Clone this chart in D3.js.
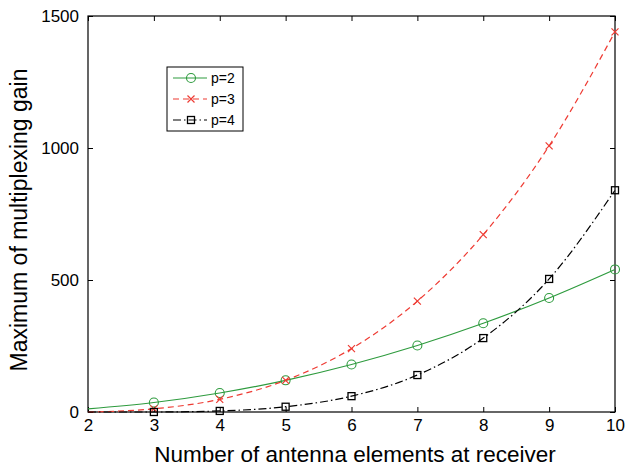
<!DOCTYPE html>
<html>
<head>
<meta charset="utf-8">
<script src="https://cdn.jsdelivr.net/npm/d3@7"></script>
<style>
  body { margin: 0; background: #fff; }
  text { font-family: "Liberation Sans", Arial, sans-serif; }
</style>
</head>
<body>
<div id="chart"></div>
<script>
// Data
const antennas = [2, 3, 4, 5, 6, 7, 8, 9, 10];
const gainP2 = [12, 36, 72, 120, 180, 252, 336, 432, 540];
const gainP3 = [0, 12, 48, 120, 240, 420, 672, 1008, 1440];
const gainP4 = [0, 0, 4, 20, 60, 140, 280, 504, 840];
const xTicks = [2, 3, 4, 5, 6, 7, 8, 9, 10];
const yTicks = [0, 500, 1000, 1500];

const series = [
    { name: "p=2", values: gainP2, color: "#2e9b3e", dash: null, marker: "circle" },
    { name: "p=3", values: gainP3, color: "#ee3b33", dash: "6,4", marker: "cross" },
    { name: "p=4", values: gainP4, color: "#000000", dash: "8,3,1.5,3", marker: "square" }
];

// SVG dimensions
const w = 626;
const h = 469;
const padL = 88, padR = 615, padT = 16, padB = 412;

const xScale = d3.scaleLinear().domain([2, 10]).range([padL, padR]);
const yScale = d3.scaleLinear().domain([0, 1500]).range([padB, padT]);

const svg = d3.select("#chart")
    .append("svg")
    .attr("width", w)
    .attr("height", h);

// Axes (ticks inward on all sides)
function styleAxis(g) {
    g.select(".domain").remove();
    g.selectAll("line").attr("stroke", "#000");
    g.selectAll("text")
        .attr("fill", "#000")
        .style("font-size", "17px");
}

svg.append("g")
    .attr("transform", "translate(0," + padB + ")")
    .call(d3.axisBottom(xScale).tickValues(xTicks).tickSizeInner(-5).tickSizeOuter(0).tickPadding(7).tickFormat(d3.format("d")))
    .call(styleAxis);

svg.append("g")
    .attr("transform", "translate(0," + padT + ")")
    .call(d3.axisTop(xScale).tickValues(xTicks).tickSizeInner(-5).tickSizeOuter(0).tickFormat(""))
    .call(styleAxis);

svg.append("g")
    .attr("transform", "translate(" + padL + ",0)")
    .call(d3.axisLeft(yScale).tickValues(yTicks).tickSizeInner(-5).tickSizeOuter(0).tickPadding(9).tickFormat(d3.format("d")))
    .call(styleAxis);

svg.append("g")
    .attr("transform", "translate(" + padR + ",0)")
    .call(d3.axisRight(yScale).tickValues(yTicks).tickSizeInner(-5).tickSizeOuter(0).tickFormat(""))
    .call(styleAxis);

// Plot box
svg.append("rect")
    .attr("x", padL)
    .attr("y", padT)
    .attr("width", padR - padL)
    .attr("height", padB - padT)
    .attr("fill", "none")
    .attr("stroke", "#000")
    .attr("stroke-width", 1.2);

// Marker drawing
function drawMarker(g, type, color, x, y) {
    if (type === "circle") {
        g.append("circle").attr("cx", x).attr("cy", y).attr("r", 4.5)
            .attr("fill", "none").attr("stroke", color).attr("stroke-width", 1.1);
    } else if (type === "cross") {
        g.append("path")
            .attr("d", "M" + (x - 3.5) + "," + (y - 3.5) + "L" + (x + 3.5) + "," + (y + 3.5) +
                "M" + (x - 3.5) + "," + (y + 3.5) + "L" + (x + 3.5) + "," + (y - 3.5))
            .attr("stroke", color).attr("stroke-width", 1.2);
    } else {
        g.append("rect").attr("x", x - 3.5).attr("y", y - 3.5).attr("width", 7).attr("height", 7)
            .attr("fill", "none").attr("stroke", color).attr("stroke-width", 1.3);
    }
}

const line = d3.line()
    .curve(d3.curveMonotoneX)
    .x(d => xScale(d[0]))
    .y(d => yScale(d[1]));

series.forEach(s => {
    const pts = antennas.map((a, i) => [a, s.values[i]]);
    svg.append("path")
        .datum(pts)
        .attr("fill", "none")
        .attr("stroke", s.color)
        .attr("stroke-width", 1.2)
        .attr("stroke-dasharray", s.dash)
        .attr("d", line);
    const g = svg.append("g");
    pts.filter(p => p[0] > 2).forEach(p => drawMarker(g, s.marker, s.color, xScale(p[0]), yScale(p[1])));
});

// Legend
const legend = svg.append("g").attr("transform", "translate(167,67)");
legend.append("rect")
    .attr("width", 76).attr("height", 64)
    .attr("fill", "#fff").attr("stroke", "#000").attr("stroke-width", 1);
series.forEach((s, i) => {
    const y = 11 + i * 21;
    legend.append("line")
        .attr("x1", 6).attr("x2", 40).attr("y1", y).attr("y2", y)
        .attr("stroke", s.color).attr("stroke-width", 1.2)
        .attr("stroke-dasharray", s.dash);
    drawMarker(legend, s.marker, s.color, 24, y);
    legend.append("text")
        .attr("x", 44).attr("y", y + 5)
        .style("font-size", "14px")
        .text(s.name);
});

// Axis titles
svg.append("text")
    .attr("x", 355)
    .attr("y", 462)
    .attr("text-anchor", "middle")
    .style("font-size", "22.5px")
    .text("Number of antenna elements at receiver");

svg.append("text")
    .attr("transform", "translate(27,220) rotate(-90)")
    .attr("text-anchor", "middle")
    .style("font-size", "23px")
    .text("Maximum of multiplexing gain");
</script>
</body>
</html>
